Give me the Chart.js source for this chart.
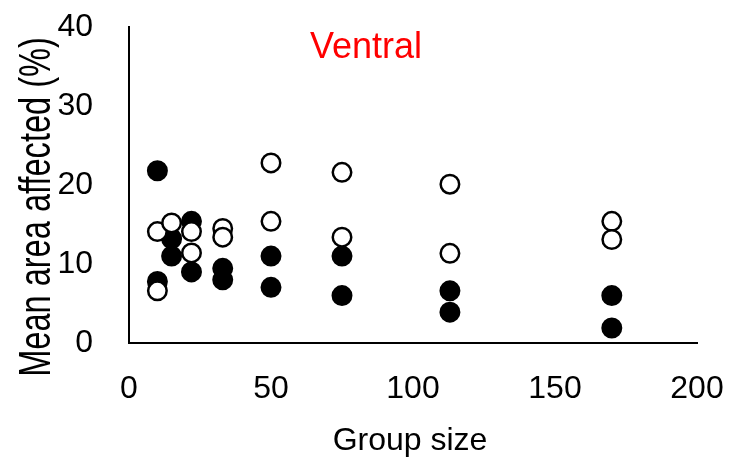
<!DOCTYPE html>
<html><head><meta charset="utf-8">
<script src="https://cdn.jsdelivr.net/npm/chart.js@4"></script>
<style>html,body{margin:0;padding:0;background:#fff}#wrap{width:729px;height:460px}</style>
</head><body><div id="wrap"><canvas id="c"></canvas></div>
<script>
const groupSizeFilled = [10, 10, 15, 15, 22, 22, 33, 33, 50, 50, 75, 75, 113, 113, 170, 170];
const filledValues   = [21.8, 7.8, 13.2, 11.0, 15.4, 9.0, 9.45, 8.0, 11.0, 7.05, 11.0, 6.0, 6.6, 3.9, 6.0, 1.9];
const groupSizeOpen  = [10, 10, 15, 22, 22, 33, 33, 50, 50, 75, 75, 113, 113, 170, 170];
const openValues     = [14.1, 6.6, 15.2, 14.1, 11.4, 14.5, 13.4, 22.8, 15.4, 21.6, 13.4, 20.1, 11.35, 15.4, 13.1];
const xTicks = [0, 50, 100, 150, 200];
const yTicks = [0, 10, 20, 30, 40];
const panelLabel = "Ventral";
const xTitle = "Group size";
const yTitle = "Mean area affected (%)";

const FONT = "'Liberation Sans', Arial, sans-serif";
const toPts = (xs, ys) => xs.map((x, i) => ({x: x, y: ys[i]}));

const textPlugin = {
  id: 'texts',
  afterDraw(chart) {
    const {ctx} = chart;
    ctx.save();
    ctx.fillStyle = '#ff0000';
    ctx.font = "36px " + FONT;
    ctx.textAlign = 'center';
    ctx.textBaseline = 'alphabetic';
    ctx.fillText(panelLabel, 366, 58);
    ctx.fillStyle = '#000';
    ctx.font = "32px " + FONT;
    ctx.fillText(xTitle, 410, 450);
    ctx.translate(50, 207);
    ctx.rotate(-Math.PI / 2);
    ctx.scale(0.74, 1);
    ctx.font = "44px " + FONT;
    ctx.fillText(yTitle, 0, 0);
    ctx.restore();
  }
};

new Chart(document.getElementById('c'), {
  type: 'scatter',
  data: {
    datasets: [
      {label: 'filled', data: toPts(groupSizeFilled, filledValues), backgroundColor: '#000', borderColor: '#000', borderWidth: 2, pointRadius: 9.5, pointHoverRadius: 9.5, order: 2},
      {label: 'open', data: toPts(groupSizeOpen, openValues), backgroundColor: '#fff', borderColor: '#000', borderWidth: 2.5, pointRadius: 9.25, pointHoverRadius: 9.25, order: 1}
    ]
  },
  options: {
    responsive: true, maintainAspectRatio: false, animation: false,
    layout: {padding: {top: 27, right: 32, left: 0, bottom: 0}},
    plugins: {legend: {display: false}, tooltip: {enabled: false}},
    scales: {
      x: {
        type: 'linear', min: 0, max: 200,
        afterBuildTicks: s => { s.ticks = xTicks.map(v => ({value: v})); },
        afterFit: s => { s.height = 117; s.paddingLeft = 0; s.paddingRight = 0; },
        grid: {display: false, drawOnChartArea: false, drawTicks: true, tickLength: 10, tickColor: '#000', tickWidth: 2},
        border: {display: true, color: '#000', width: 2},
        ticks: {color: '#000', font: {family: FONT, size: 32}, padding: 17, maxRotation: 0},
        title: {display: false}
      },
      y: {
        type: 'linear', min: 0, max: 40,
        afterBuildTicks: s => { s.ticks = yTicks.map(v => ({value: v})); },
        afterFit: s => { s.width = 129; s.paddingTop = 0; s.paddingBottom = 0; },
        grid: {display: false, drawOnChartArea: false, drawTicks: true, tickLength: 9, tickColor: '#000', tickWidth: 2},
        border: {display: true, color: '#000', width: 2},
        ticks: {color: '#000', font: {family: FONT, size: 32}, padding: 27},
        title: {display: false}
      }
    }
  },
  plugins: [textPlugin]
});
</script></body></html>
